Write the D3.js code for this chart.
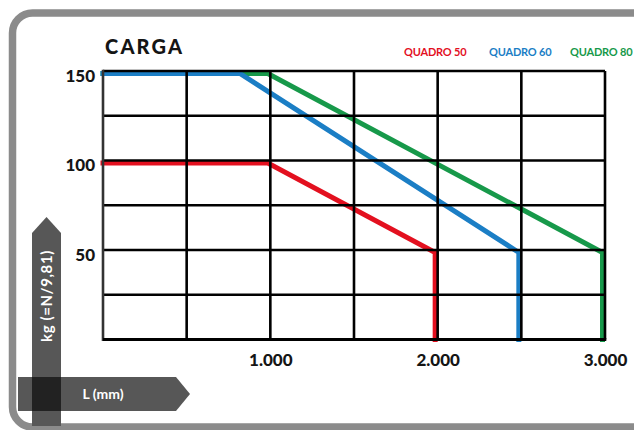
<!DOCTYPE html>
<html>
<head>
<meta charset="utf-8">
<script src="https://cdn.jsdelivr.net/npm/d3@7"></script>
<style>
  html, body { margin: 0; padding: 0; background: #fff; }
  svg { display: block; }
  text { font-family: Lato, "Open Sans", sans-serif; font-weight: 700; }
</style>
</head>
<body>
<svg id="chart" width="634" height="430"></svg>
<script>
// Load curves: length L (mm) against allowed load (kg)
const seriesNames = ["QUADRO 50", "QUADRO 60", "QUADRO 80"];
const seriesColors = ["#e3101f", "#1b7ec5", "#17994a"];
const quadro50 = [[0, 100], [1000, 100], [2000, 50], [2000, 0]];
const quadro60 = [[0, 150], [833, 150], [2500, 50], [2500, 0]];
const quadro80 = [[0, 150], [1000, 150], [3000, 50], [3000, 0]];
const xTickValues = [1000, 2000, 3000];
const xTickLabels = ["1.000", "2.000", "3.000"];
const yTickValues = [50, 100, 150];
const yTickLabels = ["50", "100", "150"];
const xGridValues = [500, 1000, 1500, 2000, 2500, 3000];
const yGridValues = [25, 50, 75, 100, 125, 150];

const svg = d3.select("#chart");

// Rounded frame
svg.append("rect")
  .attr("x", 12.5).attr("y", 13)
  .attr("width", 660).attr("height", 414)
  .attr("rx", 20).attr("ry", 20)
  .attr("fill", "none")
  .attr("stroke", "#8b8b8b")
  .attr("stroke-width", 7.5);

const x = d3.scaleLinear().domain([0, 3000]).range([103, 605]);
const y = d3.scaleLinear().domain([0, 150]).range([339.5, 71]);

// Curves (drawn beneath the grid)
const line = d3.line().x(d => x(d[0])).y(d => y(d[1]));
const curves = [quadro80, quadro60, quadro50];
const curveColors = [seriesColors[2], seriesColors[1], seriesColors[0]];
svg.append("g")
  .attr("transform", "translate(-2.5,2.5)")
  .selectAll("path")
  .data(curves)
  .join("path")
  .attr("d", line)
  .attr("fill", "none")
  .attr("stroke", (d, i) => curveColors[i])
  .attr("stroke-width", 5)
  .attr("stroke-linejoin", "miter");

// Grid
const grid = svg.append("g").attr("stroke", "#000").attr("stroke-width", 2.6);
grid.selectAll("line.v")
  .data(xGridValues)
  .join("line")
  .attr("class", "v")
  .attr("x1", d => x(d)).attr("x2", d => x(d))
  .attr("y1", y(150)).attr("y2", y(0));
grid.selectAll("line.h")
  .data(yGridValues)
  .join("line")
  .attr("class", "h")
  .attr("x1", x(0)).attr("x2", x(3000))
  .attr("y1", d => y(d)).attr("y2", d => y(d));
// Axis lines
grid.append("line")
  .attr("x1", x(0)).attr("x2", x(0))
  .attr("y1", y(150) - 1.3).attr("y2", y(0) + 1.5)
  .attr("stroke", "#333");
grid.append("line")
  .attr("x1", x(0)).attr("x2", x(3000) + 1.3)
  .attr("y1", y(0)).attr("y2", y(0))
  .attr("stroke-width", 3);

// Tick labels via d3 axes (domain and tick lines hidden)
const xAxis = d3.axisBottom(x)
  .tickValues(xTickValues)
  .tickFormat((d, i) => xTickLabels[i])
  .tickSize(0).tickPadding(0);
const gx = svg.append("g").attr("transform", `translate(0,${y(0)})`).call(xAxis);
gx.select(".domain").remove();
gx.selectAll("text")
  .attr("y", 26.5).attr("dy", 0)
  .attr("font-size", 17)
  .attr("fill", "#151515")
  .style("font-family", "Lato, sans-serif")
  .style("font-weight", 900);

const yAxis = d3.axisLeft(y)
  .tickValues(yTickValues)
  .tickFormat((d, i) => yTickLabels[i])
  .tickSize(0).tickPadding(0);
const gy = svg.append("g").attr("transform", `translate(${x(0)},0)`).call(yAxis);
gy.select(".domain").remove();
gy.selectAll("text")
  .attr("x", -8).attr("dy", "0.6em")
  .attr("font-size", 17)
  .attr("fill", "#151515")
  .style("font-family", "Lato, sans-serif")
  .style("font-weight", 900);

// Title
svg.append("text")
  .attr("x", 105).attr("y", 53.5)
  .attr("font-size", 20)
  .attr("letter-spacing", 2.2)
  .attr("fill", "#151515")
  .style("font-weight", 900)
  .text("CARGA");

// Legend
const legendX = [404, 489, 570];
svg.append("g").selectAll("text")
  .data(seriesNames)
  .join("text")
  .attr("x", (d, i) => legendX[i])
  .attr("y", 56)
  .attr("font-size", 11)
  .attr("letter-spacing", -0.2)
  .attr("fill", (d, i) => seriesColors[i])
  .text(d => d);

// Axis arrows
svg.append("path")
  .attr("d", "M32,233 L46.5,217 L61,233 L61,426 L32,426 Z")
  .attr("fill", "#575757");
svg.append("path")
  .attr("d", "M18,377 L176,377 L190,394 L176,411 L18,411 Z")
  .attr("fill", "#575757");
svg.append("rect")
  .attr("x", 32).attr("y", 377).attr("width", 29).attr("height", 34)
  .attr("fill", "#222");

svg.append("text")
  .attr("transform", "translate(46.5,296) rotate(-90)")
  .attr("text-anchor", "middle")
  .attr("dy", "0.36em")
  .attr("font-size", 15)
  .attr("letter-spacing", 0.6)
  .attr("fill", "#fff")
  .text("kg (=N/9,81)");
svg.append("text")
  .attr("x", 103).attr("y", 394)
  .attr("text-anchor", "middle")
  .attr("dy", "0.36em")
  .attr("font-size", 14)
  .attr("fill", "#fff")
  .text("L (mm)");
</script>
</body>
</html>
